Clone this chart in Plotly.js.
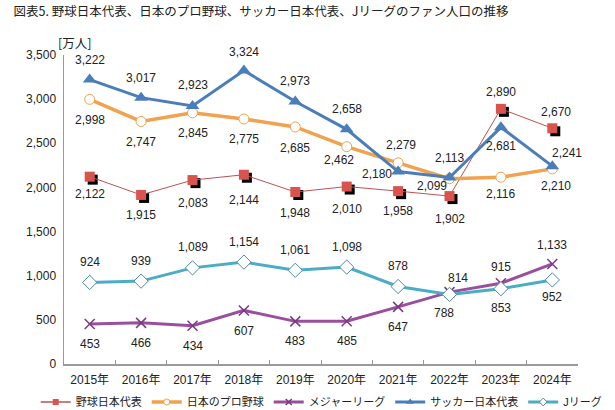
<!DOCTYPE html>
<html><head><meta charset="utf-8">
<script src="https://cdn.plot.ly/plotly-3.0.1.min.js"></script>
<style>html,body{margin:0;padding:0;background:#fff;}#chart{width:615px;height:410px;}</style>
</head><body><div id="chart"></div>
<script>
const years = ["2015年","2016年","2017年","2018年","2019年","2020年","2021年","2022年","2023年","2024年"];
const baseballJapan = [2122,1915,2083,2144,1948,2010,1958,1902,2890,2670];
const proBaseball   = [2998,2747,2845,2775,2685,2462,2279,2099,2116,2210];
const majorLeague   = [453,466,434,607,483,485,647,814,915,1133];
const soccerJapan   = [3222,3017,2923,3324,2973,2658,2180,2113,2681,2241];
const jLeague       = [924,939,1089,1154,1061,1098,878,788,853,952];
const names = ["野球日本代表","日本のプロ野球","メジャーリーグ","サッカー日本代表","Jリーグ"];

// label offsets in pixels (dx right, dy down)
const labelDx = [
  [0,0,0,0,0,0,0,0,0,4],
  [0,0,0,0,0,-8,3,-18,0,4],
  [0,0,0,0,0,0,0,8,0,0],
  [0,0,0,0,0,0,-21,0,0,15],
  [0,0,0,0,0,0,0,-6,0,0]
];
const labelDy = [
  [17,20,23,25,21,22,20,23,-17,-16],
  [21,21,20,20,21,13,-18,7,17,17],
  [20,20,20,21,20,20,20,-14,-16,-19],
  [-20,-20,-21,-19,-21,-20,2,-19,19,-13],
  [-20,-20,-21,-20,-20,-20,-20,19,19,17]
];

const series = [baseballJapan, proBaseball, majorLeague, soccerJapan, jLeague];
const FONT = "Liberation Sans, Arial, Noto Sans CJK JP, sans-serif";
const plotW = 514, plotH = 309;
const shiftX = 3 * 10 / plotW, shiftY = 3 * 3500 / plotH;

const styles = [
  {line: {color: '#b9544f', width: 1}, marker: {symbol: 'square', size: 10, color: '#d9534f'}},
  {line: {color: '#f0a24e', width: 3.5}, marker: {symbol: 'circle', size: 10, color: '#fff', line: {color: '#f0a24e', width: 1}}},
  {line: {color: '#9a4f9c', width: 3}, marker: {symbol: 'x-thin', size: 10, color: '#7a3a82', line: {color: '#7a3a82', width: 1.5}}},
  {line: {color: '#4a7ebb', width: 3}, marker: {symbol: 'triangle-up', size: 12, color: '#4a7ebb'}},
  {line: {color: '#4bacc6', width: 3}, marker: {symbol: 'diamond', size: 11, color: '#fff', line: {color: '#4a8aa0', width: 1}}}
];
const legendStyles = [
  {line: {color: '#b9544f', width: 1.5}, marker: {symbol: 'square', size: 6, color: '#d9534f'}},
  {line: {color: '#f0a24e', width: 3.5}, marker: {symbol: 'circle', size: 6, color: '#fff', line: {color: '#f0a24e', width: 1}}},
  {line: {color: '#9a4f9c', width: 3}, marker: {symbol: 'x-thin', size: 6, color: '#7a3a82', line: {color: '#7a3a82', width: 1.5}}},
  {line: {color: '#4a7ebb', width: 3}, marker: {symbol: 'triangle-up', size: 7, color: '#4a7ebb'}},
  {line: {color: '#4bacc6', width: 3}, marker: {symbol: 'diamond', size: 6, color: '#fff', line: {color: '#4a8aa0', width: 1}}}
];

const traces = [
  { // shadow of red squares on base axes
    x: years, y: baseballJapan, xaxis: 'x', yaxis: 'y', mode: 'markers', showlegend: false,
    hoverinfo: 'skip', marker: {symbol: 'square', size: 10, color: '#000'}
  }
];
series.forEach((arr, s) => {
  traces.push(Object.assign({x: years, y: arr, name: names[s], xaxis: 'x2', yaxis: 'y2',
    mode: 'lines+markers', showlegend: false}, styles[s]));
});
series.forEach((arr, s) => {
  traces.push(Object.assign({x: [null], y: [null], name: names[s], xaxis: 'x2', yaxis: 'y2',
    mode: 'lines+markers', showlegend: true}, legendStyles[s]));
});

const annotations = [];
series.forEach((arr, s) => {
  arr.forEach((v, i) => {
    annotations.push({
      x: years[i], y: v, xref: 'x2', yref: 'y2', text: v.toLocaleString('en-US'),
      showarrow: false, xshift: labelDx[s][i], yshift: -labelDy[s][i],
      font: {family: FONT, size: 12, color: '#222'}
    });
  });
});
annotations.push({x: 0, y: 1, xref: 'paper', yref: 'paper', xanchor: 'left', yanchor: 'bottom',
  xshift: -8, yshift: 1, text: '[万人]', showarrow: false, font: {family: 'Noto Sans CJK JP, sans-serif', size: 12.5, color: '#222'}});

const layout = {
  width: 615, height: 410,
  margin: {l: 64, r: 37, t: 55, b: 46, autoexpand: false},
  paper_bgcolor: '#fff', plot_bgcolor: '#fff',
  title: {text: '図表5. 野球日本代表、日本のプロ野球、サッカー日本代表、Jリーグのファン人口の推移',
    x: 0.022, xanchor: 'left', y: 0.972, yanchor: 'middle', font: {family: 'Noto Sans CJK JP, sans-serif', size: 12.5, color: '#222'}},
  showlegend: true,
  legend: {orientation: 'h', x: -0.055, xanchor: 'left', y: -0.076, yanchor: 'top',
    font: {family: FONT, size: 11, color: '#222'}, itemwidth: 30, tracegroupgap: 0},
  xaxis: {type: 'category', range: [-0.5 - shiftX, 9.5 - shiftX], visible: false, fixedrange: true},
  yaxis: {range: [shiftY, 3500 + shiftY], visible: false, fixedrange: true},
  xaxis2: {type: 'category', overlaying: 'x', range: [-0.5, 9.5], showline: true, linecolor: '#9a9a9a', linewidth: 1.5,
    ticks: 'inside', ticklen: 4, tickcolor: '#9a9a9a', tickson: 'boundaries', showgrid: false, zeroline: false,
    ticklabelstandoff: 4, tickfont: {family: FONT, size: 12, color: '#222'}, anchor: 'y2'},
  yaxis2: {overlaying: 'y', side: 'left', range: [0, 3500], dtick: 500, tickformat: ',', showline: true, linecolor: '#9a9a9a', linewidth: 1.5,
    ticks: '', showgrid: false, zeroline: false, ticklabelstandoff: 4,
    tickfont: {family: FONT, size: 12, color: '#222'}, anchor: 'x2'},
  annotations: annotations
};

Plotly.newPlot('chart', traces, layout, {displayModeBar: false, staticPlot: true});
</script></body></html>
